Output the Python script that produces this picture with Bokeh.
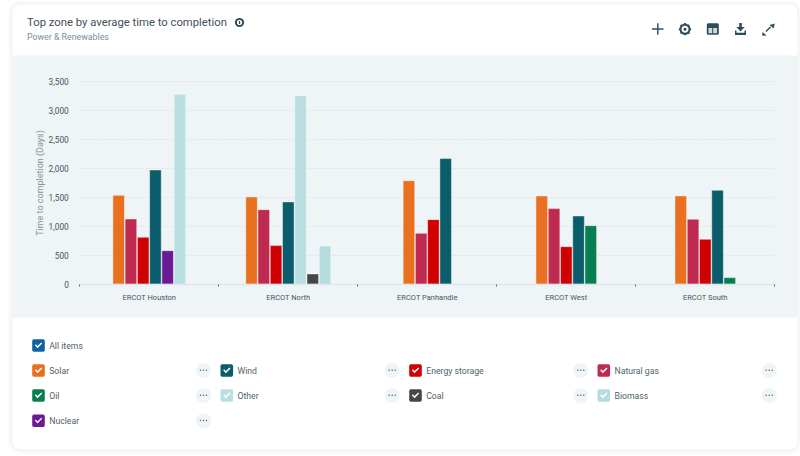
import math
from bokeh.plotting import figure
from bokeh.embed import file_html
from bokeh.resources import INLINE
from bokeh.core.properties import value
from bokeh.models import Range1d, FixedTicker, ColumnDataSource, NumeralTickFormatter

zones = ["ERCOT Houston", "ERCOT North", "ERCOT Panhandle", "ERCOT West", "ERCOT South"]
series = ["Solar", "Natural gas", "Energy storage", "Wind", "Oil", "Nuclear", "Other", "Coal", "Biomass"]
solar = [1534, 1506, 1787, 1523, 1523]
natural_gas = [1126, 1287, 879, 1305, 1121]
energy_storage = [810, 667, 1115, 649, 776]
wind = [1971, 1420, 2167, 1178, 1621]
oil = [None, None, None, 1011, 115]
nuclear = [580, None, None, None, None]
other = [3276, 3253, None, None, None]
coal = [None, 178, None, None, None]
biomass = [None, 661, None, None, None]
values = [solar, natural_gas, energy_storage, wind, oil, nuclear, other, coal, biomass]
colors = {"Solar": "#e8701f", "Natural gas": "#bf2a50", "Energy storage": "#cf0000", "Wind": "#0b5d6b",
          "Oil": "#087f52", "Nuclear": "#6a1b93", "Other": "#b9dfe2", "Coal": "#444748", "Biomass": "#b5dde0"}
legend_rows = [["Solar", "Wind", "Energy storage", "Natural gas"],
               ["Oil", "Other", "Coal", "Biomass"],
               ["Nuclear"]]
y_ticks = [0, 500, 1000, 1500, 2000, 2500, 3000, 3500]

FONT = "Roboto"
W, H = 800, 456
X0, XU = 79.3, 139.0       # page px of the first category edge, px per category
Y0, YU = 283.8, 203 / 3500  # page px of value 0, px per day

p = figure(width=W, height=H, output_backend="svg", toolbar_location=None,
           x_range=Range1d(-X0 / XU, (W - X0) / XU),
           y_range=Range1d(-(H - Y0) / YU, Y0 / YU),
           min_border=0, outline_line_color=None,
           background_fill_color="#ffffff", border_fill_color="#ffffff")
p.extra_x_ranges = {"page": Range1d(0, W)}
p.extra_y_ranges = {"page": Range1d(H, 0)}
PAGE = dict(x_range_name="page", y_range_name="page")

def shape(pts, fill, alpha=1.0, level="glyph"):
    p.patch([x for x, _ in pts], [y for _, y in pts], fill_color=fill, fill_alpha=alpha,
            line_color=None, level=level, **PAGE)

def rrect(l, t, r, b, rad=0):
    if rad <= 0:
        return [(l, t), (r, t), (r, b), (l, b)]
    pts = []
    for cxx, cyy, a0 in [(r - rad, t + rad, -90), (r - rad, b - rad, 0), (l + rad, b - rad, 90), (l + rad, t + rad, 180)]:
        for k in range(7):
            a = math.radians(a0 + k * 15)
            pts.append((cxx + rad * math.cos(a), cyy + rad * math.sin(a)))
    return pts

def box(l, t, r, b, fill, alpha=1.0, rad=0, level="glyph"):
    shape(rrect(l, t, r, b, rad), fill, alpha, level)

def text(x, y, s, size, color):
    p.text([x], [y], text=[s], text_font=value(FONT), text_font_size=value(size), text_color=color,
           text_align="left", text_baseline="middle", **PAGE)

# card, shadow, chart panel
for g, al in [(5, .006), (4, .007), (3, .009), (2, .012), (1, .015)]:
    box(12 - g, 4 - g, 797 + g, 449 + g, "#000000", al, 8 + g, "image")
box(12, 4, 797, 449, "#ffffff", 1, 8, "image")
box(12, 55, 797, 317, "#eff4f7", 1, 0, "image")

# axes, drawn at fixed data positions inside the full-page frame
n = len(zones)
xa = p.xaxis[0]
xa.fixed_location = 0
xa.bounds = (0, n)
xa.ticker = FixedTicker(ticks=[i + .5 for i in range(n)], minor_ticks=list(range(n + 1)))
xa.major_label_overrides = {i + .5: z for i, z in enumerate(zones)}
xa.major_tick_line_color = None
xa.minor_tick_line_color = "#5f6b73"
xa.minor_tick_out = 2
xa.minor_tick_in = 0
xa.axis_line_color = "#dde6ee"
xa.axis_line_width = 1.5
xa.major_label_standoff = 3
xa.major_label_text_font = FONT
xa.major_label_text_font_size = "7.5px"
xa.major_label_text_color = "#46545f"

ya = p.yaxis[0]
ya.fixed_location = 0
ya.bounds = (0, 3500)
ya.ticker = FixedTicker(ticks=y_ticks)
ya.formatter = NumeralTickFormatter(format="0,0")
ya.axis_line_color = None
ya.major_tick_line_color = None
ya.minor_tick_line_color = None
ya.major_label_standoff = 5
ya.major_label_text_font = FONT
ya.major_label_text_font_size = "8.3px"
ya.major_label_text_color = "#46545f"
ya.axis_label = "Time to completion (Days)"
ya.axis_label_text_font = FONT
ya.axis_label_text_font_size = "9px"
ya.axis_label_text_font_style = "normal"
ya.axis_label_text_color = "#8a9299"
ya.axis_label_standoff = 0

p.xgrid.visible = False
g = p.ygrid[0]
g.ticker = FixedTicker(ticks=y_ticks)
g.bounds = (0, 3500)
g.cross_bounds = (0, n)
g.grid_line_color = "#e0e7eb"
g.grid_line_dash = "2 1"

STEP = 12.25 / XU
xs, tops, cols = [], [], []
for i in range(n):
    present = [(s, v[i]) for s, v in zip(series, values) if v[i] is not None]
    for k, (s, v) in enumerate(present):
        xs.append(i + .5 + (k - (len(present) - 1) / 2) * STEP)
        tops.append(v)
        cols.append(colors[s])
src = ColumnDataSource(dict(x=xs, top=tops, color=cols))
p.vbar(x="x", top="top", bottom=0, width=11.6 / XU, source=src, fill_color="color",
       line_color="#ffffff", line_alpha=.55, line_width=.8)

# header
text(26.5, 22, "Top zone by average time to completion", "11.3px", "#3f4f5a")
text(26.5, 36, "Power & Renewables", "8.8px", "#78909c")
box(234.5, 17.5, 243.5, 26.5, "#2f4553", 1, 4.5)
box(236.3, 19.3, 241.7, 24.7, "#ffffff", 1, 2.7)
box(238.4, 20.4, 239.7, 23.6, "#2f4553")

ICON = "#2f4b5c"
# plus
box(651.5, 27.8, 663, 29.2, ICON)
box(656.6, 22.7, 658, 34.3, ICON)
# gear
gear = []
for k in range(16):
    r = 6.4 if k % 2 == 0 else 5.4
    a = k * math.pi / 8
    gear.append((684.5 + r * math.cos(a), 28.7 + r * math.sin(a)))
shape(gear, ICON)
box(681, 25.2, 688, 32.2, "#ffffff", 1, 3.5)
box(683, 27.2, 686, 30.2, ICON, 1, 1.5)
# table
box(706.3, 22.7, 718.3, 34.3, ICON, 1, 1.5)
box(708, 27.5, 711.7, 32.8, "#cfd8dc")
box(712.7, 27.5, 716.5, 32.8, "#cfd8dc")
# download
shape([(738.7, 22.5), (741.3, 22.5), (741.3, 26.5), (744.2, 26.5), (740, 31), (735.8, 26.5), (738.7, 26.5)], ICON)
shape([(734.5, 30), (736, 30), (736, 32.3), (744, 32.3), (744, 30), (745.5, 30), (745.5, 34.5), (734.5, 34.5)], ICON)
# expand
shape([(765, 30.5), (769.5, 26), (770.5, 27), (766, 31.5)], ICON)
shape([(762, 31.5), (766, 35), (761.7, 35.3)], ICON)
shape([(769, 24.5), (774.3, 23), (773, 28)], ICON)

# legend
def check(x, y, fill, label):
    box(x, y - 6.3, x + 12.6, y + 6.3, fill, 1, 2)
    c, m = x + 6.3, y
    shape([(c - 3.6, m - .2), (c - 2.6, m - 1.2), (c - 1, m + .6), (c + 2.7, m - 3),
           (c + 3.7, m - 2), (c - 1, m + 2.8)], "#ffffff")
    text(x + 17, y, label, "8.7px", "#4f5f6b")

check(31.7, 345, "#0d62a5", "All items")
col_x = [31.7, 220, 408.7, 597]
pill_x = [203, 391.7, 580.3, 768.7]
row_y = [370, 395, 420.3]
for r, row in enumerate(legend_rows):
    for c, name in enumerate(row):
        check(col_x[c], row_y[r], colors[name], name)
        px, py = pill_x[c], row_y[r]
        box(px - 7.5, py - 7.5, px + 7.5, py + 7.5, "#eff4f7", 1, 7.5)
        for d in (-3, 0, 3):
            box(px + d - .7, py - 1, px + d + .7, py + .4, "#5d6b75", 1, .6)

open("out.html", "w").write(file_html(p, INLINE))
